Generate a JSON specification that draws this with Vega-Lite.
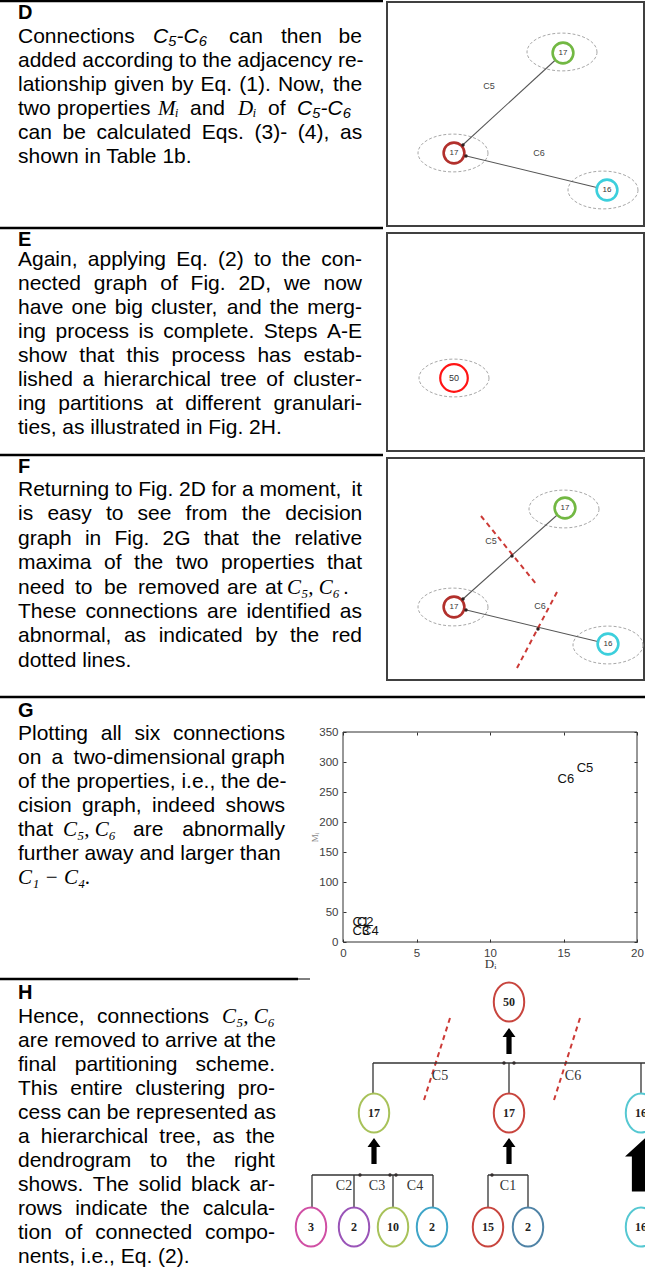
{
  "$schema": "https://vega.github.io/schema/vega-lite/v6.json",
  "width": 645,
  "height": 1268,
  "padding": 0,
  "autosize": {"type": "none"},
  "background": "white",
  "config": {"view": {"stroke": null}},
  "datasets": {
    "seps": [
      {"x": 0, "x2": 383, "y": 1},
      {"x": 0, "x2": 383, "y": 228},
      {"x": 0, "x2": 383, "y": 455},
      {"x": 0, "x2": 645, "y": 697},
      {"x": 0, "x2": 298, "y": 979}
    ],
    "thinseps": [{"x": 298, "x2": 310, "y": 979}],
    "boxes": [
      {"x": 387, "x2": 644, "y": 2, "y2": 226},
      {"x": 387, "x2": 644, "y": 233, "y2": 451},
      {"x": 387, "x2": 644, "y": 458, "y2": 680}
    ],
    "ell": [
      {"x": 562, "y": 52}, {"x": 453, "y": 153}, {"x": 603, "y": 190},
      {"x": 454, "y": 378},
      {"x": 564, "y": 509}, {"x": 453, "y": 607}, {"x": 608, "y": 645}
    ],
    "edges": [
      {"x": 563, "y": 53, "x2": 454, "y2": 153},
      {"x": 607, "y": 190, "x2": 454, "y2": 153},
      {"x": 565, "y": 508, "x2": 454, "y2": 607},
      {"x": 608, "y": 644, "x2": 454, "y2": 607}
    ],
    "cuts": [
      {"x": 481, "y": 516, "x2": 537, "y2": 585},
      {"x": 557, "y": 592, "x2": 517, "y2": 668},
      {"x": 450, "y": 1018, "x2": 424, "y2": 1100},
      {"x": 580, "y": 1018, "x2": 554, "y2": 1100}
    ],
    "nodes": [
      {"x": 563, "y": 53, "n": "17", "c": "green"},
      {"x": 454, "y": 153, "n": "17", "c": "dred"},
      {"x": 607, "y": 190, "n": "16", "c": "aqua"},
      {"x": 565, "y": 508, "n": "17", "c": "green"},
      {"x": 454, "y": 607, "n": "17", "c": "dred"},
      {"x": 608, "y": 644, "n": "16", "c": "aqua"}
    ],
    "bignode": [{"x": 454, "y": 378, "n": "50", "c": "bright"}],
    "dlabels": [
      {"x": 489, "y": 86, "t": "C5"}, {"x": 539, "y": 153, "t": "C6"},
      {"x": 491, "y": 541, "t": "C5"}, {"x": 540, "y": 606, "t": "C6"}
    ],
    "dots": [
      {"x": 512, "y": 556}, {"x": 538, "y": 629},
      {"x": 463, "y": 145}, {"x": 466, "y": 156},
      {"x": 463, "y": 599}, {"x": 466, "y": 610},
      {"x": 360, "y": 1175}, {"x": 390, "y": 1175}, {"x": 396, "y": 1175},
      {"x": 492, "y": 1175}, {"x": 504, "y": 1063}, {"x": 514, "y": 1063}
    ],
    "tree": [
      {"x": 373, "y": 1063, "x2": 645, "y2": 1063},
      {"x": 373, "y": 1063, "x2": 373, "y2": 1094},
      {"x": 509, "y": 1063, "x2": 509, "y2": 1094},
      {"x": 641, "y": 1063, "x2": 641, "y2": 1094},
      {"x": 312, "y": 1175, "x2": 433, "y2": 1175},
      {"x": 312, "y": 1175, "x2": 312, "y2": 1207},
      {"x": 354, "y": 1175, "x2": 354, "y2": 1207},
      {"x": 393, "y": 1175, "x2": 393, "y2": 1207},
      {"x": 433, "y": 1175, "x2": 433, "y2": 1207},
      {"x": 488, "y": 1175, "x2": 528, "y2": 1175},
      {"x": 488, "y": 1175, "x2": 488, "y2": 1207},
      {"x": 528, "y": 1175, "x2": 528, "y2": 1207}
    ],
    "dnodes": [
      {"x": 509, "y": 1002, "n": "50", "c": "red"},
      {"x": 374, "y": 1113, "n": "17", "c": "lime"},
      {"x": 509, "y": 1113, "n": "17", "c": "red"},
      {"x": 641, "y": 1113, "n": "16", "c": "cyan"},
      {"x": 311, "y": 1227, "n": "3", "c": "magenta"},
      {"x": 354, "y": 1227, "n": "2", "c": "purple"},
      {"x": 393, "y": 1227, "n": "10", "c": "lime"},
      {"x": 432, "y": 1227, "n": "2", "c": "teal"},
      {"x": 488, "y": 1227, "n": "15", "c": "red"},
      {"x": 528, "y": 1227, "n": "2", "c": "steel"},
      {"x": 641, "y": 1227, "n": "16", "c": "cyan"}
    ],
    "tlabels": [
      {"x": 440, "y": 1076, "t": "C5"}, {"x": 573, "y": 1076, "t": "C6"},
      {"x": 344, "y": 1186, "t": "C2"}, {"x": 377, "y": 1186, "t": "C3"},
      {"x": 415, "y": 1186, "t": "C4"}, {"x": 508, "y": 1186, "t": "C1"}
    ],
    "arrows": [{"x": 509, "y": 1041}, {"x": 374, "y": 1151}, {"x": 509, "y": 1151}],
    "bigarrow": [{"x": 647, "y": 1164}],
    "labels": [
      {"x": 18, "y": 13, "t": "D"}, {"x": 18, "y": 240, "t": "E"},
      {"x": 18, "y": 467, "t": "F"}, {"x": 18, "y": 711, "t": "G"},
      {"x": 18, "y": 993, "t": "H"}
    ],
    "mathSans": [
      {"x": 153, "y": 37, "t": "C₅-C₆"},
      {"x": 297, "y": 109, "t": "C₅-C₆"}
    ],
    "mathSerif": [
      {"x": 158, "y": 109, "t": "Mᵢ"},
      {"x": 238, "y": 109, "t": "Dᵢ"},
      {"x": 287, "y": 588, "t": "C₅, C₆"},
      {"x": 63, "y": 830, "t": "C₅, C₆"},
      {"x": 18, "y": 878, "t": "C₁ − C₄."},
      {"x": 222, "y": 1017, "t": "C₅, C₆"}
    ],
    "body": [
      {"x": 18, "y": 37, "t": "Connections"}, {"x": 229, "y": 37, "t": "can"}, {"x": 281, "y": 37, "t": "then"}, {"x": 338.6, "y": 37, "t": "be"},
      {"x": 18, "y": 61, "t": "added according to the adjacency re-"},
      {"x": 18, "y": 85, "t": "lationship"}, {"x": 113.9, "y": 85, "t": "given"}, {"x": 171.2, "y": 85, "t": "by"}, {"x": 200.6, "y": 85, "t": "Eq."}, {"x": 239.3, "y": 85, "t": "(1)."}, {"x": 277.9, "y": 85, "t": "Now,"}, {"x": 332.9, "y": 85, "t": "the"},
      {"x": 18, "y": 109, "t": "two"}, {"x": 57, "y": 109, "t": "properties"}, {"x": 190, "y": 109, "t": "and"}, {"x": 268, "y": 109, "t": "of"},
      {"x": 18, "y": 133, "t": "can"}, {"x": 62.5, "y": 133, "t": "be"}, {"x": 96.6, "y": 133, "t": "calculated"}, {"x": 201.8, "y": 133, "t": "Eqs."}, {"x": 254.5, "y": 133, "t": "(3)-"}, {"x": 297.8, "y": 133, "t": "(4),"}, {"x": 340, "y": 133, "t": "as"},
      {"x": 18, "y": 157, "t": "shown in Table 1b."},

      {"x": 18, "y": 260, "t": "Again,"}, {"x": 87.8, "y": 260, "t": "applying"}, {"x": 176.3, "y": 260, "t": "Eq."}, {"x": 218, "y": 260, "t": "(2)"}, {"x": 254, "y": 260, "t": "to"}, {"x": 281.8, "y": 260, "t": "the"}, {"x": 321.2, "y": 260, "t": "con-"},
      {"x": 18, "y": 284, "t": "nected"}, {"x": 93.8, "y": 284, "t": "graph"}, {"x": 160.3, "y": 284, "t": "of"}, {"x": 190.6, "y": 284, "t": "Fig."}, {"x": 238.4, "y": 284, "t": "2D,"}, {"x": 283.9, "y": 284, "t": "we"}, {"x": 323.5, "y": 284, "t": "now"},
      {"x": 18, "y": 308, "t": "have"}, {"x": 71.6, "y": 308, "t": "one"}, {"x": 114.8, "y": 308, "t": "big"}, {"x": 150.9, "y": 308, "t": "cluster,"}, {"x": 226.7, "y": 308, "t": "and"}, {"x": 269.8, "y": 308, "t": "the"}, {"x": 307.2, "y": 308, "t": "merg-"},
      {"x": 18, "y": 332, "t": "ing"}, {"x": 55.5, "y": 332, "t": "process"}, {"x": 138.5, "y": 332, "t": "is"}, {"x": 163.2, "y": 332, "t": "complete."}, {"x": 263.7, "y": 332, "t": "Steps"}, {"x": 326.9, "y": 332, "t": "A-E"},
      {"x": 18, "y": 356, "t": "show"}, {"x": 79.3, "y": 356, "t": "that"}, {"x": 126.6, "y": 356, "t": "this"}, {"x": 171.6, "y": 356, "t": "process"}, {"x": 257.4, "y": 356, "t": "has"}, {"x": 303.6, "y": 356, "t": "estab-"},
      {"x": 18, "y": 380, "t": "lished"}, {"x": 82.4, "y": 380, "t": "a"}, {"x": 103.6, "y": 380, "t": "hierarchical"}, {"x": 220.5, "y": 380, "t": "tree"}, {"x": 266.2, "y": 380, "t": "of"}, {"x": 293.2, "y": 380, "t": "cluster-"},
      {"x": 18, "y": 404, "t": "ing"}, {"x": 58.2, "y": 404, "t": "partitions"}, {"x": 155.6, "y": 404, "t": "at"}, {"x": 185.3, "y": 404, "t": "different"}, {"x": 273.4, "y": 404, "t": "granulari-"},
      {"x": 18, "y": 428, "t": "ties, as illustrated in Fig. 2H."},

      {"x": 18, "y": 490, "t": "Returning to Fig. 2D for a moment,"}, {"x": 351.5, "y": 490, "t": "it"},
      {"x": 18, "y": 514, "t": "is"}, {"x": 47.4, "y": 514, "t": "easy"}, {"x": 105.9, "y": 514, "t": "to"}, {"x": 137.6, "y": 514, "t": "see"}, {"x": 185.6, "y": 514, "t": "from"}, {"x": 241.8, "y": 514, "t": "the"}, {"x": 285.2, "y": 514, "t": "decision"},
      {"x": 18, "y": 539, "t": "graph"}, {"x": 84.9, "y": 539, "t": "in"}, {"x": 114.4, "y": 539, "t": "Fig."}, {"x": 162.6, "y": 539, "t": "2G"}, {"x": 203.8, "y": 539, "t": "that"}, {"x": 252, "y": 539, "t": "the"}, {"x": 294.4, "y": 539, "t": "relative"},
      {"x": 18, "y": 563, "t": "maxima"}, {"x": 104, "y": 563, "t": "of"}, {"x": 134.1, "y": 563, "t": "the"}, {"x": 175.8, "y": 563, "t": "two"}, {"x": 221, "y": 563, "t": "properties"}, {"x": 327, "y": 563, "t": "that"},
      {"x": 18, "y": 588, "t": "need"}, {"x": 75, "y": 588, "t": "to"}, {"x": 104, "y": 588, "t": "be"}, {"x": 138, "y": 588, "t": "removed"}, {"x": 227, "y": 588, "t": "are"}, {"x": 265, "y": 588, "t": "at"}, {"x": 343, "y": 588, "t": "."},
      {"x": 18, "y": 612, "t": "These"}, {"x": 85.6, "y": 612, "t": "connections"}, {"x": 207, "y": 612, "t": "are"}, {"x": 246.6, "y": 612, "t": "identified"}, {"x": 339.8, "y": 612, "t": "as"},
      {"x": 18, "y": 636, "t": "abnormal,"}, {"x": 123.9, "y": 636, "t": "as"}, {"x": 158.7, "y": 636, "t": "indicated"}, {"x": 255.2, "y": 636, "t": "by"}, {"x": 290, "y": 636, "t": "the"}, {"x": 331.7, "y": 636, "t": "red"},
      {"x": 18, "y": 661, "t": "dotted lines."},

      {"x": 18, "y": 734, "t": "Plotting"}, {"x": 100.7, "y": 734, "t": "all"}, {"x": 134.5, "y": 734, "t": "six"}, {"x": 172.9, "y": 734, "t": "connections"},
      {"x": 18, "y": 758, "t": "on"}, {"x": 51.6, "y": 758, "t": "a"}, {"x": 73.6, "y": 758, "t": "two-dimensional"}, {"x": 231.3, "y": 758, "t": "graph"},
      {"x": 18, "y": 782, "t": "of the properties, i.e., the de-"},
      {"x": 18, "y": 806, "t": "cision"}, {"x": 82.1, "y": 806, "t": "graph,"}, {"x": 152, "y": 806, "t": "indeed"}, {"x": 225.4, "y": 806, "t": "shows"},
      {"x": 18, "y": 830, "t": "that"}, {"x": 133, "y": 830, "t": "are"}, {"x": 182.3, "y": 830, "t": "abnormally"},
      {"x": 18, "y": 854, "t": "further away and larger than"},

      {"x": 18, "y": 1017, "t": "Hence,"}, {"x": 97, "y": 1017, "t": "connections"},
      {"x": 18, "y": 1041, "t": "are removed to arrive at the"},
      {"x": 18, "y": 1065, "t": "final"}, {"x": 74.7, "y": 1065, "t": "partitioning"}, {"x": 195.6, "y": 1065, "t": "scheme."},
      {"x": 18, "y": 1089, "t": "This"}, {"x": 70.2, "y": 1089, "t": "entire"}, {"x": 135.3, "y": 1089, "t": "clustering"}, {"x": 237.7, "y": 1089, "t": "pro-"},
      {"x": 18, "y": 1113, "t": "cess can be represented as"},
      {"x": 18, "y": 1137, "t": "a"}, {"x": 40.8, "y": 1137, "t": "hierarchical"}, {"x": 159.3, "y": 1137, "t": "tree,"}, {"x": 212.5, "y": 1137, "t": "as"}, {"x": 245.8, "y": 1137, "t": "the"},
      {"x": 18, "y": 1161, "t": "dendrogram"}, {"x": 149.9, "y": 1161, "t": "to"}, {"x": 186.2, "y": 1161, "t": "the"}, {"x": 234.1, "y": 1161, "t": "right"},
      {"x": 18, "y": 1185, "t": "shows."}, {"x": 92.8, "y": 1185, "t": "The"}, {"x": 138.4, "y": 1185, "t": "solid"}, {"x": 191, "y": 1185, "t": "black"}, {"x": 249.4, "y": 1185, "t": "ar-"},
      {"x": 18, "y": 1209, "t": "rows"}, {"x": 75.2, "y": 1209, "t": "indicate"}, {"x": 160.5, "y": 1209, "t": "the"}, {"x": 202.7, "y": 1209, "t": "calcula-"},
      {"x": 18, "y": 1233, "t": "tion"}, {"x": 64.8, "y": 1233, "t": "of"}, {"x": 95.2, "y": 1233, "t": "connected"}, {"x": 205, "y": 1233, "t": "compo-"},
      {"x": 18, "y": 1257, "t": "nents, i.e., Eq. (2)."}
    ],
    "scatter": [
      {"D": 0.65, "M": 33, "label": "C1"},
      {"D": 0.95, "M": 34, "label": "C2"},
      {"D": 0.65, "M": 19, "label": "C3"},
      {"D": 1.3, "M": 19, "label": "C4"},
      {"D": 15.9, "M": 290, "label": "C5"},
      {"D": 14.6, "M": 272, "label": "C6"}
    ],
    "frame": [{"x0": 0, "x1": 20, "y0": 0, "y1": 350}]
  },
  "layer": [
    {
      "encoding": {
        "x": {"field": "x", "type": "quantitative", "scale": {"domain": [0, 645], "range": [0, 645], "nice": false, "zero": false}, "axis": null},
        "y": {"field": "y", "type": "quantitative", "scale": {"domain": [0, 1268], "range": [0, 1268], "nice": false, "zero": false}, "axis": null}
      },
      "layer": [
        {"data": {"name": "boxes"}, "mark": {"type": "rect", "fill": "white", "stroke": "#404040", "strokeWidth": 2}, "encoding": {"x2": {"field": "x2"}, "y2": {"field": "y2"}}},
        {"data": {"name": "seps"}, "mark": {"type": "rule", "color": "#000", "strokeWidth": 2.6}, "encoding": {"x2": {"field": "x2"}}},
        {"data": {"name": "thinseps"}, "mark": {"type": "rule", "color": "#000", "strokeWidth": 1}, "encoding": {"x2": {"field": "x2"}}},
        {"data": {"name": "ell"}, "mark": {"type": "point", "filled": false, "stroke": "#a8a8a8", "strokeWidth": 1, "strokeDash": [3, 2], "size": 4900, "opacity": 1, "shape": "M1,0 C1,0.298 0.552,0.54 0,0.54 C-0.552,0.54 -1,0.298 -1,0 C-1,-0.298 -0.552,-0.54 0,-0.54 C0.552,-0.54 1,-0.298 1,0 Z"}},
        {"data": {"name": "edges"}, "mark": {"type": "rule", "color": "#555", "strokeWidth": 1.1}, "encoding": {"x2": {"field": "x2"}, "y2": {"field": "y2"}}},
        {"data": {"name": "cuts"}, "mark": {"type": "rule", "color": "#cc3a36", "strokeWidth": 2, "strokeDash": [5, 4]}, "encoding": {"x2": {"field": "x2"}, "y2": {"field": "y2"}}},
        {"data": {"name": "nodes"}, "mark": {"type": "point", "shape": "circle", "filled": false, "fill": "white", "fillOpacity": 1, "size": 430, "strokeWidth": 2.6, "opacity": 1},
          "encoding": {"stroke": {"field": "c", "type": "nominal", "legend": null, "scale": {"domain": ["green", "dred", "aqua", "bright", "red", "lime", "cyan", "magenta", "purple", "teal", "steel"], "range": ["#72b843", "#b2302c", "#3ccfdc", "#ff1414", "#c8453e", "#a8c25a", "#56c8d2", "#d04fa4", "#9a55b8", "#3fa5c8", "#4f83a6"]}}}},
        {"data": {"name": "bignode"}, "mark": {"type": "point", "shape": "circle", "filled": false, "fill": "white", "fillOpacity": 1, "size": 760, "strokeWidth": 2.2, "opacity": 1},
          "encoding": {"stroke": {"field": "c", "type": "nominal", "legend": null, "scale": {"domain": ["green", "dred", "aqua", "bright", "red", "lime", "cyan", "magenta", "purple", "teal", "steel"], "range": ["#72b843", "#b2302c", "#3ccfdc", "#ff1414", "#c8453e", "#a8c25a", "#56c8d2", "#d04fa4", "#9a55b8", "#3fa5c8", "#4f83a6"]}}}},
        {"data": {"name": "dots"}, "mark": {"type": "point", "filled": true, "color": "#302020", "size": 12, "opacity": 1}},
        {"data": {"name": "nodes"}, "mark": {"type": "text", "font": "Liberation Sans", "fontSize": 8, "color": "#333", "align": "center", "baseline": "middle"}, "encoding": {"text": {"field": "n"}}},
        {"data": {"name": "bignode"}, "mark": {"type": "text", "font": "Liberation Sans", "fontSize": 9, "color": "#333", "align": "center", "baseline": "middle"}, "encoding": {"text": {"field": "n"}}},
        {"data": {"name": "dlabels"}, "mark": {"type": "text", "font": "Liberation Sans", "fontSize": 9, "color": "#444", "align": "center", "baseline": "middle"}, "encoding": {"text": {"field": "t"}}},
        {"data": {"name": "tree"}, "mark": {"type": "rule", "color": "#333", "strokeWidth": 1.3}, "encoding": {"x2": {"field": "x2"}, "y2": {"field": "y2"}}},
        {"data": {"name": "dnodes"}, "mark": {"type": "point", "filled": false, "fill": "white", "fillOpacity": 1, "size": 1521, "strokeWidth": 2, "opacity": 1, "shape": "M0.78,0 C0.78,0.552 0.431,1 0,1 C-0.431,1 -0.78,0.552 -0.78,0 C-0.78,-0.552 -0.431,-1 0,-1 C0.431,-1 0.78,-0.552 0.78,0 Z"},
          "encoding": {"stroke": {"field": "c", "type": "nominal", "legend": null, "scale": {"domain": ["green", "dred", "aqua", "bright", "red", "lime", "cyan", "magenta", "purple", "teal", "steel"], "range": ["#72b843", "#b2302c", "#3ccfdc", "#ff1414", "#c8453e", "#a8c25a", "#56c8d2", "#d04fa4", "#9a55b8", "#3fa5c8", "#4f83a6"]}}}},
        {"data": {"name": "dnodes"}, "mark": {"type": "text", "font": "Liberation Serif", "fontSize": 12, "fontWeight": "bold", "color": "#222", "align": "center", "baseline": "middle"}, "encoding": {"text": {"field": "n"}}},
        {"data": {"name": "tlabels"}, "mark": {"type": "text", "font": "Liberation Serif", "fontSize": 14, "color": "#333", "align": "center", "baseline": "middle"}, "encoding": {"text": {"field": "t"}}},
        {"data": {"name": "arrows"}, "mark": {"type": "point", "filled": true, "color": "#000", "size": 676, "opacity": 1, "shape": "M0,-1 L0.5,-0.3 L0.2,-0.3 L0.2,1 L-0.2,1 L-0.2,-0.3 L-0.5,-0.3 Z"}},
        {"data": {"name": "bigarrow"}, "mark": {"type": "point", "filled": true, "color": "#000", "size": 3025, "opacity": 1, "shape": "M0,-1 L0.8,-0.27 L0.55,-0.27 L0.55,1 L-0.55,1 L-0.55,-0.27 L-0.8,-0.27 Z"}},
        {"data": {"name": "labels"}, "mark": {"type": "text", "font": "Liberation Sans", "fontSize": 20, "fontWeight": "bold", "color": "#000", "align": "left", "baseline": "middle"}, "encoding": {"text": {"field": "t"}}},
        {"data": {"name": "body"}, "mark": {"type": "text", "font": "Liberation Sans", "fontSize": 21, "color": "#000", "align": "left", "baseline": "middle"}, "encoding": {"text": {"field": "t"}}},
        {"data": {"name": "mathSans"}, "mark": {"type": "text", "font": "Liberation Sans", "fontSize": 21, "fontStyle": "italic", "color": "#000", "align": "left", "baseline": "middle"}, "encoding": {"text": {"field": "t"}}},
        {"data": {"name": "mathSerif"}, "mark": {"type": "text", "font": "Liberation Serif", "fontSize": 21, "fontStyle": "italic", "color": "#000", "align": "left", "baseline": "middle"}, "encoding": {"text": {"field": "t"}}}
      ]
    },
    {
      "data": {"name": "scatter"},
      "mark": {"type": "text", "align": "left", "baseline": "middle", "font": "Liberation Sans", "fontSize": 13, "color": "#111"},
      "encoding": {
        "x": {"field": "D", "type": "quantitative", "scale": {"domain": [0, 20], "range": [343, 637], "nice": false, "zero": false},
          "axis": {"orient": "bottom", "offset": -326, "values": [0, 5, 10, 15, 20], "domain": false, "grid": false, "tickSize": -3, "tickColor": "#333", "labelPadding": 8, "labelFont": "Liberation Sans", "labelFontSize": 11.5, "labelColor": "#404040", "labelFlush": false, "labelOverlap": false,
            "title": "Dᵢ", "titleFont": "Liberation Serif", "titleFontSize": 13, "titleFontWeight": "normal", "titleColor": "#333", "titleX": 490, "titleY": 21, "titleBaseline": "middle", "titleAlign": "center"}},
        "y": {"field": "M", "type": "quantitative", "scale": {"domain": [0, 350], "range": [942, 732], "nice": false, "zero": false},
          "axis": {"orient": "left", "offset": -343, "values": [0, 50, 100, 150, 200, 250, 300, 350], "domain": false, "grid": false, "tickSize": -3, "tickColor": "#333", "labelPadding": 8, "labelFont": "Liberation Sans", "labelFontSize": 11.5, "labelColor": "#404040", "labelFlush": false, "labelOverlap": false,
            "title": "Mᵢ", "titleFont": "Liberation Serif", "titleFontSize": 9, "titleFontWeight": "normal", "titleColor": "#888", "titleX": -29, "titleY": 837, "titleBaseline": "middle", "titleAlign": "center", "titleAngle": -90}},
        "text": {"field": "label"}
      }
    },
    {
      "data": {"name": "frame"},
      "mark": {"type": "rect", "fill": "white", "fillOpacity": 0, "stroke": "#303030", "strokeWidth": 1},
      "encoding": {
        "x": {"field": "x0", "type": "quantitative", "scale": {"domain": [0, 20], "range": [343, 637], "nice": false, "zero": false},
          "axis": {"orient": "top", "offset": -732, "values": [0, 5, 10, 15, 20], "labels": false, "domain": false, "grid": false, "tickSize": -3, "tickColor": "#333", "title": null}},
        "x2": {"field": "x1"},
        "y": {"field": "y0", "type": "quantitative", "scale": {"domain": [0, 350], "range": [942, 732], "nice": false, "zero": false},
          "axis": {"orient": "right", "offset": -8, "values": [0, 50, 100, 150, 200, 250, 300, 350], "labels": false, "domain": false, "grid": false, "tickSize": -3, "tickColor": "#333", "title": null}},
        "y2": {"field": "y1"}
      }
    }
  ],
  "resolve": {"scale": {"x": "independent", "y": "independent"}, "axis": {"x": "independent", "y": "independent"}}
}
